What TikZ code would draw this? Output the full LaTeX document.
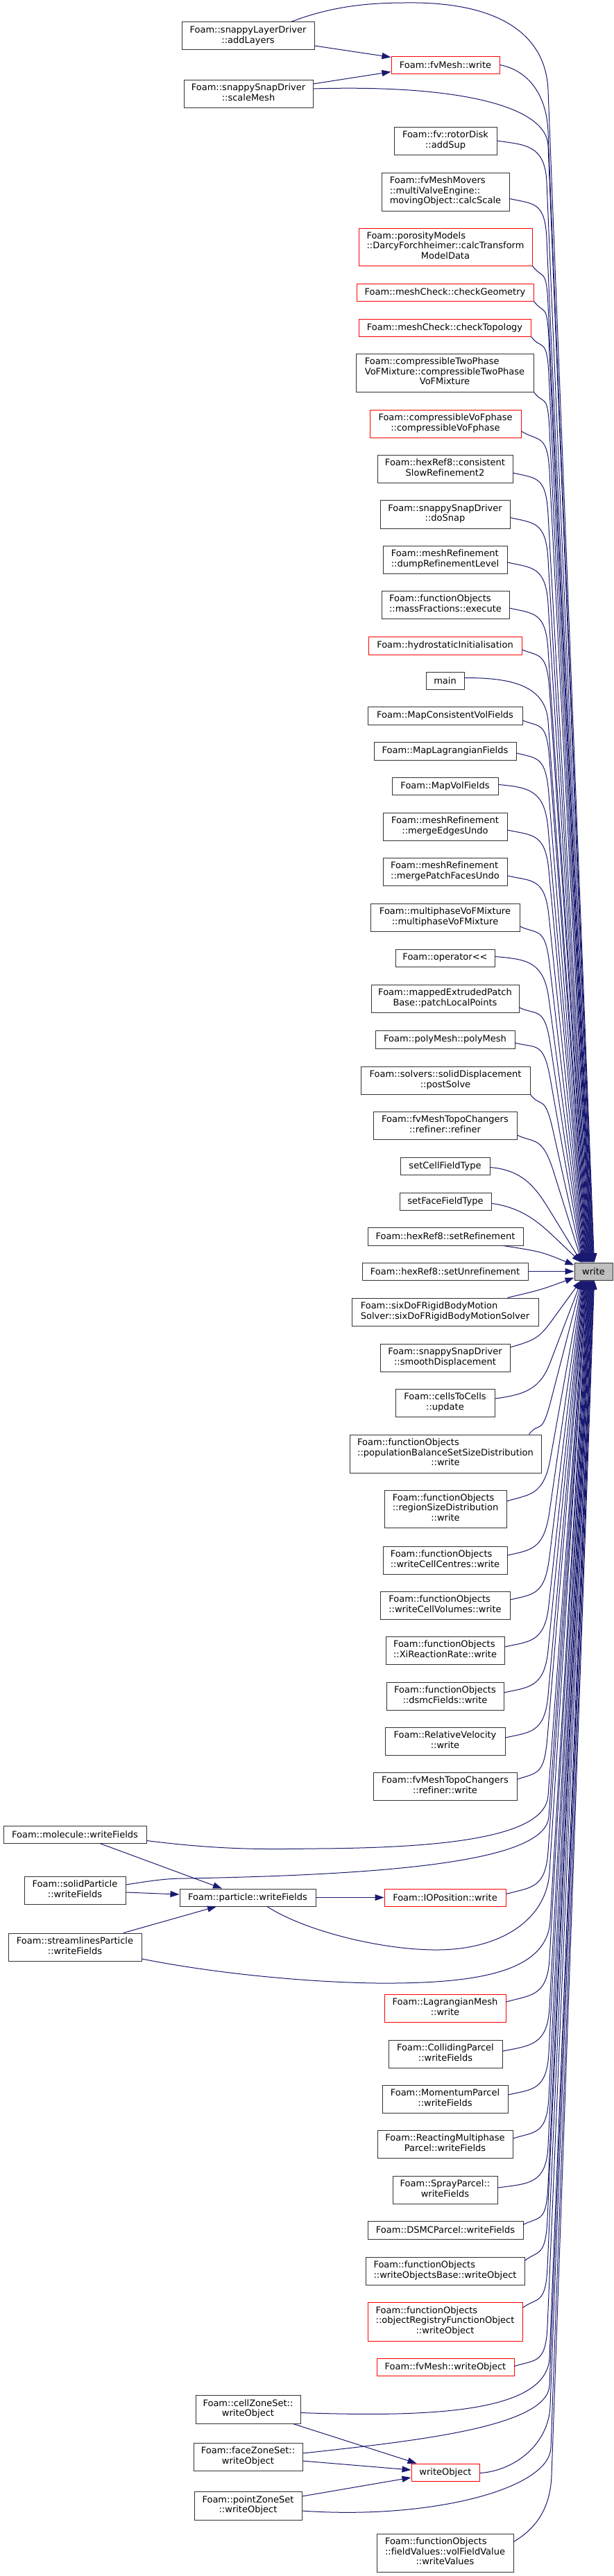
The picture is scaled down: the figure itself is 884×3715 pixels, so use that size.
\documentclass[tikz,border=0pt]{standalone}
\usepackage{fontspec}
\setmainfont[Ligatures=NoCommon]{DejaVu Sans}
\usetikzlibrary{arrows.meta,calc}
\definecolor{edgec}{HTML}{191970}
\definecolor{bordc}{HTML}{333333}
\newcommand{\two}[2]{\begin{tabular}{@{}c@{}}\multicolumn{1}{@{}l@{}}{#1}\\#2\end{tabular}}
\newcommand{\three}[3]{\begin{tabular}{@{}c@{}}\multicolumn{1}{@{}l@{}}{#1}\\\multicolumn{1}{@{}l@{}}{#2}\\#3\end{tabular}}
\newcommand{\nd}[7][box]{\node[#1,minimum width={#4-#2},minimum height={#5-#3}] (#6) at ({(#2+#4)/2},{(#3+#5)/2}) {#7};}
\newcommand{\ce}[5][55pt]{\draw[cl] #2 .. controls #3 and ($#4!-#1!#5$) .. #4 -- #5;}
\begin{document}
\begin{tikzpicture}[x=1pt,y=-1pt,
  box/.style={draw=bordc,line width=1pt,fill=white,inner sep=0pt,font=\fontsize{13}{14.5}\selectfont},
  rbox/.style={box,draw=red},
  gbox/.style={box,fill=black!25},
  cl/.style={draw=edgec,line width=1pt,-{Triangle[length=13pt,width=9pt]}}]
\fill[white] (0,0) rectangle (884,3715);
\useasboundingbox (0,0) rectangle (884,3715);
% nodes
\nd{262}{32}{453}{72}{addLayers}{\two{Foam::snappyLayerDriver}{::addLayers}}
\nd[rbox]{564}{81}{720}{106}{fvw}{Foam::fvMesh::write}
\nd{265}{115}{451}{155}{scaleMesh}{\two{Foam::snappySnapDriver}{::scaleMesh}}
\nd{568}{183}{716}{223}{rotor}{\two{Foam::fv::rotorDisk}{::addSup}}
\nd{550}{249}{734}{304}{mve}{\three{Foam::fvMeshMovers}{::multiValveEngine::}{movingObject::calcScale}}
\nd[rbox]{517}{329}{767}{383}{poro}{\three{Foam::porosityModels}{::DarcyForchheimer::calcTransform}{ModelData}}
\nd[rbox]{514}{409}{769}{434}{chkG}{Foam::meshCheck::checkGeometry}
\nd[rbox]{517}{460}{765}{485}{chkT}{Foam::meshCheck::checkTopology}
\nd{513}{510}{769}{565}{ctp}{\three{Foam::compressibleTwoPhase}{VoFMixture::compressibleTwoPhase}{VoFMixture}}
\nd[rbox]{533}{591}{751}{631}{cvof}{\two{Foam::compressibleVoFphase}{::compressibleVoFphase}}
\nd{544}{656}{739}{696}{hex2}{\two{Foam::hexRef8::consistent}{SlowRefinement2}}
\nd{548}{721}{735}{762}{doSnap}{\two{Foam::snappySnapDriver}{::doSnap}}
\nd{552}{787}{731}{827}{dumpRef}{\two{Foam::meshRefinement}{::dumpRefinementLevel}}
\nd{550}{852}{734}{892}{massF}{\two{Foam::functionObjects}{::massFractions::execute}}
\nd[rbox]{531}{918}{752}{944}{hydro}{Foam::hydrostaticInitialisation}
\nd{614}{969}{669}{994}{main}{main}
\nd{530}{1019}{753}{1045}{mcv}{Foam::MapConsistentVolFields}
\nd{539}{1070}{744}{1096}{mlf}{Foam::MapLagrangianFields}
\nd{565}{1121}{718}{1146}{mvf}{Foam::MapVolFields}
\nd{552}{1172}{731}{1212}{meu}{\two{Foam::meshRefinement}{::mergeEdgesUndo}}
\nd{552}{1237}{731}{1277}{mpfu}{\two{Foam::meshRefinement}{::mergePatchFacesUndo}}
\nd{534}{1303}{749}{1343}{mpvm}{\two{Foam::multiphaseVoFMixture}{::multiphaseVoFMixture}}
\nd{570}{1369}{713}{1394}{oper}{Foam::operator<{}<}
\nd{535}{1420}{748}{1460}{mep}{\two{Foam::mappedExtrudedPatch}{Base::patchLocalPoints}}
\nd{541}{1486}{742}{1512}{poly}{Foam::polyMesh::polyMesh}
\nd{520}{1538}{764}{1578}{sdisp}{\two{Foam::solvers::solidDisplacement}{::postSolve}}
\nd{538}{1603}{745}{1643}{refr}{\two{Foam::fvMeshTopoChangers}{::refiner::refiner}}
\nd{577}{1669}{706}{1694}{scft}{setCellFieldType}
\nd{576}{1720}{708}{1745}{sfft}{setFaceFieldType}
\nd{530}{1770}{754}{1796}{sref}{Foam::hexRef8::setRefinement}
\nd{522}{1821}{761}{1846}{sunr}{Foam::hexRef8::setUnrefinement}
\nd[gbox]{828}{1821}{883}{1846}{wr}{write}
\nd{507}{1872}{776}{1912}{sixdof}{\two{Foam::sixDoFRigidBodyMotion}{Solver::sixDoFRigidBodyMotionSolver}}
\nd{548}{1938}{735}{1978}{smooth}{\two{Foam::snappySnapDriver}{::smoothDisplacement}}
\nd{570}{2003}{713}{2043}{c2c}{\two{Foam::cellsToCells}{::update}}
\nd{504}{2069}{780}{2124}{pbsd}{\three{Foam::functionObjects}{::populationBalanceSetSizeDistribution}{::write}}
\nd{554}{2149}{730}{2203}{rsd}{\three{Foam::functionObjects}{::regionSizeDistribution}{::write}}
\nd{552}{2230}{731}{2270}{wcc}{\two{Foam::functionObjects}{::writeCellCentres::write}}
\nd{548}{2295}{735}{2335}{wcv}{\two{Foam::functionObjects}{::writeCellVolumes::write}}
\nd{556}{2360}{727}{2400}{xi}{\two{Foam::functionObjects}{::XiReactionRate::write}}
\nd{557}{2426}{726}{2466}{dsmcf}{\two{Foam::functionObjects}{::dsmcFields::write}}
\nd{555}{2491}{728}{2531}{relv}{\two{Foam::RelativeVelocity}{::write}}
\nd{538}{2556}{745}{2596}{refw}{\two{Foam::fvMeshTopoChangers}{::refiner::write}}
\nd{5}{2633}{211}{2658}{mol}{Foam::molecule::writeFields}
\nd{35}{2706}{181}{2746}{solp}{\two{Foam::solidParticle}{::writeFields}}
\nd{259}{2724}{455}{2749}{partw}{Foam::particle::writeFields}
\nd[rbox]{554}{2724}{729}{2749}{iopos}{Foam::IOPosition::write}
\nd{12}{2788}{204}{2828}{strp}{\two{Foam::streamlinesParticle}{::writeFields}}
\nd[rbox]{554}{2876}{729}{2916}{lagm}{\two{Foam::LagrangianMesh}{::write}}
\nd{560}{2942}{724}{2982}{coll}{\two{Foam::CollidingParcel}{::writeFields}}
\nd{551}{3007}{732}{3047}{mom}{\two{Foam::MomentumParcel}{::writeFields}}
\nd{544}{3072}{739}{3112}{rmp}{\two{Foam::ReactingMultiphase}{Parcel::writeFields}}
\nd{566}{3138}{717}{3178}{spray}{\two{Foam::SprayParcel::}{writeFields}}
\nd{530}{3203}{754}{3229}{dsmcp}{Foam::DSMCParcel::writeFields}
\nd{527}{3255}{756}{3295}{wob}{\two{Foam::functionObjects}{::writeObjectsBase::writeObject}}
\nd[rbox]{530}{3320}{753}{3376}{orfo}{\three{Foam::functionObjects}{::objectRegistryFunctionObject}{::writeObject}}
\nd[rbox]{543}{3401}{741}{3426}{fvwo}{Foam::fvMesh::writeObject}
\nd{282}{3454}{433}{3495}{czs}{\two{Foam::cellZoneSet::}{writeObject}}
\nd{279}{3523}{436}{3563}{fzs}{\two{Foam::faceZoneSet::}{writeObject}}
\nd[rbox]{593}{3553}{691}{3578}{wobj}{writeObject}
\nd{280}{3593}{435}{3634}{pzs}{\two{Foam::pointZoneSet}{::writeObject}}
\nd{543}{3654}{740}{3709}{vfv}{\three{Foam::functionObjects}{::fieldValues::volFieldValue}{::writeValues}}
% target points on write
\foreach \i in {1,...,29}{
  \coordinate (u\i) at ($(wr.north west)+({29-0.68*(\i-1)},0)$);
  \coordinate (d\i) at ($(wr.south west)+({10+0.68*(\i-1)},0)$);
}
% edges into write from above
\draw[cl] ($(addLayers.east)+(0,14)$) -- ($(fvw.west)+(0,-11)$);
\draw[cl] ($(scaleMesh.east)+(0,-14)$) -- ($(fvw.west)+(0,10)$);
\draw[cl] ($(addLayers.north east)+(-34,0)$) .. controls (470,12) and (520,4) .. (584,4) .. controls (720,2) and ($(790,130)!-80pt!(u1)$) .. (790,130) -- (u1);
\ce{(fvw.east)}{+(40,8)}{(790,190)}{(u2)}
\draw[cl] ($(scaleMesh.east)+(0,-7)$) .. controls (650,122) and ($(790,210)!-60pt!(u3)$) .. (790,210) -- (u3);
\ce{(rotor.east)}{+(40,6)}{(788,263)}{(u4)}
\ce{($(mve.east)+(0,10)$)}{+(35,8)}{(788,345)}{(u5)}
\ce{(poro.south east)}{+(15,20)}{(790,440)}{(u6)}
\ce{(chkG.south east)}{+(15,20)}{(791,490)}{(u7)}
\ce{(chkT.south east)}{+(15,20)}{(791,540)}{(u8)}
\ce{(ctp.south east)}{+(15,20)}{(792,620)}{(u9)}
\ce{($(cvof.east)+(0,11)$)}{+(25,15)}{(792,680)}{(u10)}
\ce{($(hex2.east)+(0,6)$)}{+(35,8)}{(790,742)}{(u11)}
\ce{($(doSnap.east)+(0,5)$)}{+(35,8)}{(790,807)}{(u12)}
\ce{($(dumpRef.east)+(0,4)$)}{+(35,8)}{(790,871)}{(u13)}
\ce{($(massF.east)+(0,5)$)}{+(35,8)}{(790,937)}{(u14)}
\ce{($(hydro.east)+(0,6)$)}{+(25,10)}{(792,995)}{(u15)}
\ce{($(main.east)+(0,-4)$)}{+(60,0)}{(790,1040)}{(u16)}
\ce{($(mcv.east)+(0,7)$)}{+(25,10)}{(792,1095)}{(u17)}
\ce{($(mlf.east)+(0,3)$)}{+(30,8)}{(791,1145)}{(u18)}
\ce{($(mvf.east)+(0,-2)$)}{+(45,4)}{(790,1195)}{(u19)}
\ce{($(meu.east)+(0,5)$)}{+(35,8)}{(791,1255)}{(u20)}
\ce{($(mpfu.east)+(0,6)$)}{+(35,8)}{(791,1320)}{(u21)}
\ce{($(mpvm.east)+(0,13)$)}{+(25,12)}{(792,1390)}{(u22)}
\ce{($(oper.east)+(0,-2)$)}{+(45,4)}{(791,1440)}{(u23)}
\ce{($(mep.east)+(0,13)$)}{+(25,12)}{(793,1505)}{(u24)}
\ce{($(poly.east)+(0,5)$)}{+(30,8)}{(793,1555)}{(u25)}
\ce{(sdisp.south east)}{+(15,20)}{(797,1630)}{(u26)}
\ce{($(refr.east)+(0,14)$)}{+(25,12)}{(798,1690)}{(u27)}
\ce[40pt]{($(scft.east)+(0,2)$)}{+(50,4)}{(795,1750)}{(u28)}
\ce[30pt]{($(sfft.east)+(0,3)$)}{+(45,6)}{(800,1785)}{(u29)}
\draw[cl] ($(sref.south east)+(-29,0)$) .. controls (780,1805) .. ($(wr.west)+(0,-9)$);
\draw[cl] (sunr.east) -- (wr.west);
% edges into write from below
\draw[cl] ($(sixdof.north east)+(-45,0)$) .. controls (780,1860) .. ($(wr.west)+(0,9)$);
\ce[30pt]{($(smooth.east)+(0,-15)$)}{+(35,-10)}{(795,1905)}{(d1)}
\ce[40pt]{($(c2c.east)+(0,-6)$)}{+(45,-6)}{(793,1965)}{(d2)}
\ce{($(pbsd.north east)+(-18,0)$)}{+(15,-20)}{(794,2020)}{(d3)}
\ce{($(rsd.east)+(0,-11)$)}{+(30,-10)}{(793,2105)}{(d4)}
\ce{($(wcc.east)+(0,-7)$)}{+(35,-8)}{(792,2180)}{(d5)}
\ce{($(wcv.east)+(0,-8)$)}{+(35,-8)}{(792,2245)}{(d6)}
\ce{($(xi.east)+(0,-5)$)}{+(35,-8)}{(791,2315)}{(d7)}
\ce{($(dsmcf.east)+(0,-5)$)}{+(35,-8)}{(790,2380)}{(d8)}
\ce{($(relv.east)+(0,-5)$)}{+(35,-8)}{(790,2445)}{(d9)}
\ce{($(refw.east)+(0,-10)$)}{+(30,-10)}{(789,2505)}{(d10)}
\draw[cl] ($(mol.east)+(0,9)$) .. controls (320,2668) and (380,2667) .. (453,2666) .. controls (640,2665) and ($(790,2590)!-60pt!(d11)$) .. (790,2590) -- (d11);
\draw[cl] ($(solp.east)+(0,-8)$) .. controls (220,2712) and (240,2709) .. (266,2709) .. controls (600,2703) and ($(791,2620)!-60pt!(d12)$) .. (791,2620) -- (d12);
\draw[cl] ($(partw.south)+(28,0)$) .. controls (440,2785) and (550,2812) .. (629,2812) .. controls (720,2812) and ($(792,2700)!-70pt!(d13)$) .. (792,2700) -- (d13);
\ce{($(iopos.east)+(0,-5)$)}{+(35,-10)}{(790,2670)}{(d14)}
\draw[cl] ($(strp.east)+(0,17)$) .. controls (330,2850) and (480,2861) .. (567,2860) .. controls (700,2859) and ($(793,2770)!-70pt!(d15)$) .. (793,2770) -- (d15);
\ce{($(lagm.east)+(0,-9)$)}{+(35,-10)}{(792,2825)}{(d16)}
\ce{($(coll.east)+(0,-4)$)}{+(40,-8)}{(792,2895)}{(d17)}
\ce{($(mom.east)+(0,-6)$)}{+(35,-8)}{(791,2960)}{(d18)}
\ce{($(rmp.east)+(0,-8)$)}{+(30,-10)}{(791,3025)}{(d19)}
\ce{($(spray.east)+(0,-3)$)}{+(45,-6)}{(790,3095)}{(d20)}
\ce{($(dsmcp.east)+(0,-8)$)}{+(25,-12)}{(790,3150)}{(d21)}
\ce{($(wob.east)+(0,-15)$)}{+(20,-15)}{(789,3200)}{(d22)}
\ce{($(orfo.east)+(0,-20)$)}{+(20,-15)}{(789,3270)}{(d23)}
\ce{($(fvwo.east)+(0,-1)$)}{+(30,-10)}{(789,3355)}{(d24)}
\draw[cl] ($(czs.east)+(0,5)$) .. controls (620,3486) and ($(792,3400)!-80pt!(d25)$) .. (792,3400) -- (d25);
\draw[cl] ($(fzs.east)+(0,-5)$) .. controls (600,3520) and ($(792,3440)!-60pt!(d26)$) .. (792,3440) -- (d26);
\ce{($(wobj.east)+(0,1)$)}{+(50,-3)}{(793,3470)}{(d27)}
\draw[cl] ($(pzs.east)+(0,7.5)$) .. controls (620,3634) and ($(794,3530)!-60pt!(d28)$) .. (794,3530) -- (d28);
\ce{($(vfv.east)+(0,-16)$)}{+(25,-15)}{(795,3570)}{(d29)}
% other edges
\draw[cl] ($(mol.south)+(36,0)$) -- ($(partw.north)+(-37,0)$);
\draw[cl] ($(solp.east)+(0,3)$) -- ($(partw.west)+(0,-4.5)$);
\draw[cl] ($(strp.north)+(70,0)$) -- ($(partw.south)+(-45,0)$);
\draw[cl] (partw.east) -- (iopos.west);
\draw[cl] ($(czs.south east)+(-11,0)$) -- ($(wobj.north west)+(8,0)$);
\draw[cl] ($(fzs.east)+(0,6)$) -- ($(wobj.west)+(0,-3.5)$);
\draw[cl] ($(pzs.east)+(0,-13.5)$) -- ($(wobj.west)+(0,7.5)$);
\end{tikzpicture}
\end{document}
